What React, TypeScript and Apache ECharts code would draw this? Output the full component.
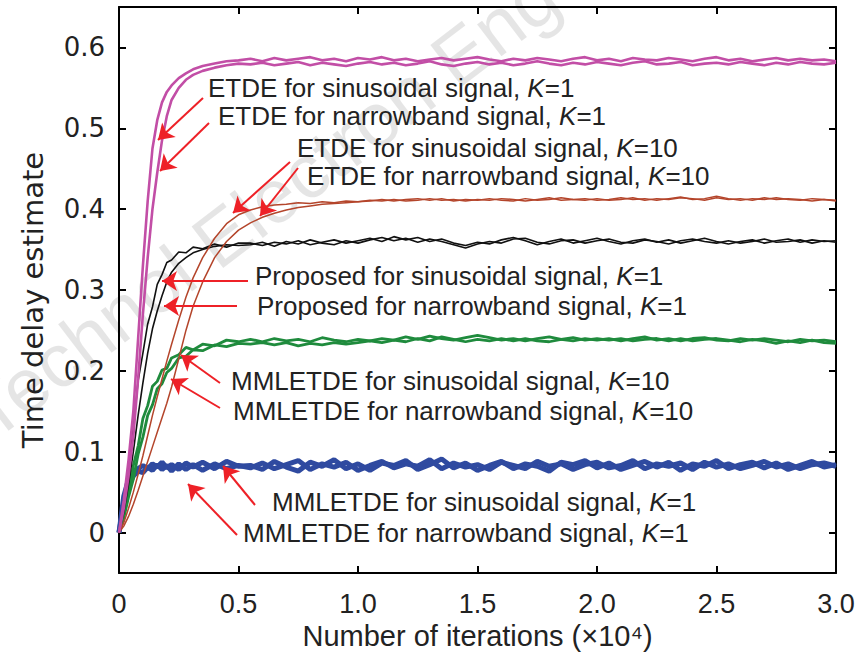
import React, { useEffect, useRef } from "react";
import * as echarts from "echarts";

// Iterations (x10^4): shared x grid for every curve
const X = [
  0, 0.02, 0.04, 0.06, 0.08, 0.1, 0.12, 0.14, 0.16, 0.18, 0.2, 0.22, 0.25, 0.28, 0.31, 0.35, 0.4, 0.45, 0.5,
  0.55, 0.6, 0.65, 0.7, 0.75, 0.8, 0.85, 0.9, 0.95, 1.0,
  1.05, 1.1, 1.15, 1.2, 1.25, 1.3, 1.35, 1.4, 1.45, 1.5,
  1.55, 1.6, 1.65, 1.7, 1.75, 1.8, 1.85, 1.9, 1.95, 2.0,
  2.05, 2.1, 2.15, 2.2, 2.25, 2.3, 2.35, 2.4, 2.45, 2.5,
  2.55, 2.6, 2.65, 2.7, 2.75, 2.8, 2.85, 2.9, 2.95, 3.0,
];

const ETDE_SIN_K1 = [
  0, 0.04, 0.09, 0.15, 0.24, 0.33, 0.41, 0.475, 0.51, 0.532, 0.545, 0.553, 0.562, 0.568, 0.573, 0.577, 0.58, 0.583, 0.584,
  0.586, 0.583, 0.587, 0.584, 0.586, 0.588, 0.584, 0.586, 0.583, 0.587,
  0.585, 0.588, 0.584, 0.586, 0.583, 0.585, 0.587, 0.584, 0.586, 0.588,
  0.585, 0.583, 0.586, 0.584, 0.587, 0.585, 0.583, 0.586, 0.588, 0.584,
  0.586, 0.583, 0.587, 0.585, 0.584, 0.587, 0.585, 0.583, 0.586, 0.588,
  0.584, 0.586, 0.583, 0.585, 0.587, 0.584, 0.586, 0.584, 0.585, 0.583,
];
const ETDE_NB_K1 = [
  0, 0.03, 0.07, 0.12, 0.19, 0.27, 0.34, 0.4, 0.445, 0.485, 0.515, 0.535, 0.55, 0.56, 0.566, 0.571, 0.575, 0.578, 0.58,
  0.579, 0.581, 0.578, 0.58, 0.582, 0.578, 0.581, 0.579, 0.577, 0.58,
  0.582, 0.579, 0.581, 0.578, 0.58, 0.583, 0.579, 0.577, 0.58, 0.582,
  0.579, 0.581, 0.578, 0.58, 0.583, 0.58, 0.578, 0.581, 0.579, 0.582,
  0.58, 0.578, 0.581, 0.583, 0.579, 0.58, 0.582, 0.578, 0.58, 0.581,
  0.579, 0.582, 0.58, 0.578, 0.581, 0.579, 0.582, 0.58, 0.579, 0.581,
];
const ETDE_SIN_K10 = [
  0, 0.012, 0.03, 0.05, 0.072, 0.095, 0.12, 0.145, 0.168, 0.19, 0.212, 0.233, 0.263, 0.291, 0.315, 0.34, 0.364, 0.382, 0.393,
  0.399, 0.403, 0.405, 0.406, 0.408, 0.407, 0.409, 0.408, 0.41, 0.409,
  0.411, 0.41, 0.412, 0.41, 0.411, 0.413, 0.411, 0.412, 0.41, 0.412,
  0.411, 0.413, 0.412, 0.41, 0.412, 0.414, 0.411, 0.412, 0.413, 0.411,
  0.412, 0.414, 0.412, 0.413, 0.411, 0.413, 0.415, 0.412, 0.413, 0.416,
  0.413, 0.411, 0.413, 0.412, 0.414, 0.412, 0.411, 0.413, 0.412, 0.411,
];
const ETDE_NB_K10 = [
  0, 0.008, 0.02, 0.035, 0.052, 0.07, 0.088, 0.106, 0.124, 0.142, 0.16, 0.18, 0.215, 0.25, 0.28, 0.31, 0.34, 0.36, 0.374,
  0.383, 0.39, 0.395, 0.399, 0.402, 0.404, 0.406, 0.407, 0.408, 0.409,
  0.41, 0.412, 0.41, 0.412, 0.413, 0.411, 0.413, 0.41, 0.412, 0.411,
  0.413, 0.411, 0.41, 0.413, 0.411, 0.412, 0.414, 0.412, 0.411, 0.413,
  0.411, 0.412, 0.414, 0.411, 0.413, 0.412, 0.414, 0.413, 0.411, 0.414,
  0.412, 0.413, 0.411, 0.414, 0.412, 0.413, 0.412, 0.41, 0.412, 0.41,
];
const PROP_SIN_K1 = [
  0, 0.035, 0.082, 0.128, 0.188, 0.222, 0.258, 0.279, 0.307, 0.319, 0.334, 0.337, 0.347, 0.346, 0.353, 0.351, 0.357, 0.353, 0.358,
  0.358, 0.355, 0.359, 0.357, 0.361, 0.356, 0.359, 0.362, 0.358, 0.361,
  0.364, 0.36, 0.366, 0.362, 0.365, 0.36, 0.363, 0.358, 0.355, 0.359,
  0.357, 0.362, 0.365, 0.361, 0.356, 0.36, 0.363, 0.358, 0.361, 0.364,
  0.36, 0.357, 0.361, 0.363, 0.359, 0.362, 0.358, 0.361, 0.364, 0.36,
  0.357, 0.36, 0.362, 0.358, 0.361, 0.363, 0.359, 0.362, 0.36, 0.361,
];
const PROP_NB_K1 = [
  0, 0.025, 0.06, 0.1, 0.145, 0.185, 0.222, 0.252, 0.274, 0.293, 0.31, 0.322, 0.333, 0.34, 0.346, 0.35, 0.354, 0.356, 0.355,
  0.356, 0.359, 0.354, 0.36, 0.357, 0.362, 0.358, 0.356, 0.361, 0.358,
  0.362, 0.365, 0.361, 0.364, 0.359, 0.363, 0.36, 0.356, 0.352, 0.357,
  0.36, 0.358, 0.363, 0.364, 0.359, 0.357, 0.361, 0.362, 0.358, 0.361,
  0.363, 0.359, 0.358, 0.362, 0.36, 0.357, 0.361, 0.363, 0.36, 0.358,
  0.361, 0.358, 0.36, 0.363, 0.359, 0.36, 0.362, 0.358, 0.361, 0.359,
];
const MML_SIN_K10 = [
  0, 0.027, 0.048, 0.083, 0.107, 0.141, 0.157, 0.181, 0.187, 0.201, 0.203, 0.216, 0.22, 0.229, 0.226, 0.233, 0.231, 0.238, 0.236,
  0.239, 0.236, 0.24, 0.237, 0.239, 0.236, 0.241, 0.238, 0.236, 0.239,
  0.237, 0.24, 0.238, 0.242, 0.239, 0.243, 0.24, 0.238, 0.241, 0.244,
  0.241, 0.238, 0.24, 0.237, 0.24, 0.242, 0.239, 0.237, 0.24, 0.238,
  0.24, 0.237, 0.24, 0.242, 0.238, 0.24, 0.237, 0.24, 0.241, 0.238,
  0.237, 0.24, 0.238, 0.24, 0.238, 0.236, 0.239, 0.237, 0.238, 0.236,
];
const MML_NB_K10 = [
  0, 0.018, 0.044, 0.066, 0.097, 0.118, 0.145, 0.158, 0.178, 0.184, 0.198, 0.203, 0.216, 0.218, 0.226, 0.225, 0.232, 0.23, 0.234,
  0.233, 0.235, 0.232, 0.235, 0.231, 0.234, 0.232, 0.235, 0.233, 0.235,
  0.237, 0.235, 0.238, 0.236, 0.24, 0.237, 0.242, 0.239, 0.236, 0.239,
  0.237, 0.24, 0.237, 0.24, 0.237, 0.236, 0.239, 0.241, 0.238, 0.24,
  0.238, 0.24, 0.237, 0.239, 0.24, 0.237, 0.24, 0.237, 0.239, 0.24,
  0.238, 0.236, 0.239, 0.237, 0.234, 0.237, 0.235, 0.238, 0.235, 0.234,
];
const MML_SIN_K1 = [
  0, 0.045, 0.066, 0.074, 0.079, 0.083, 0.079, 0.085, 0.081, 0.087, 0.08, 0.084, 0.078, 0.086, 0.081, 0.087, 0.079, 0.088, 0.082,
  0.083, 0.078, 0.088, 0.081, 0.076, 0.087, 0.082, 0.09, 0.079, 0.085,
  0.077, 0.086, 0.083, 0.089, 0.078, 0.084, 0.091, 0.08, 0.086, 0.077,
  0.083, 0.088, 0.079, 0.085, 0.082, 0.076, 0.087, 0.084, 0.089, 0.08,
  0.086, 0.078, 0.083, 0.088, 0.081, 0.087, 0.077, 0.085, 0.082, 0.089,
  0.079, 0.084, 0.087, 0.08, 0.086, 0.078, 0.083, 0.088, 0.081, 0.084,
];
const MML_NB_K1 = [
  0, 0.035, 0.058, 0.07, 0.076, 0.074, 0.081, 0.077, 0.084, 0.078, 0.083, 0.076, 0.085, 0.078, 0.084, 0.077, 0.085, 0.079, 0.083,
  0.08, 0.086, 0.079, 0.084, 0.089, 0.078, 0.085, 0.081, 0.087, 0.077,
  0.083, 0.088, 0.08, 0.085, 0.082, 0.09, 0.079, 0.086, 0.081, 0.084,
  0.078, 0.087, 0.083, 0.079, 0.088, 0.082, 0.085, 0.078, 0.084, 0.087,
  0.08, 0.083, 0.089, 0.079, 0.085, 0.082, 0.086, 0.078, 0.087, 0.081,
  0.085, 0.079, 0.083, 0.088, 0.081, 0.085, 0.079, 0.084, 0.086, 0.082,
];

const X_TICKS = [0, 0.5, 1.0, 1.5, 2.0, 2.5, 3.0];
const Y_TICKS = [0, 0.1, 0.2, 0.3, 0.4, 0.5, 0.6];

const ANNOTATIONS = [
  "ETDE for sinusoidal signal, {k|K}=1",
  "ETDE for narrowband signal, {k|K}=1",
  "ETDE for sinusoidal signal, {k|K}=10",
  "ETDE for narrowband signal, {k|K}=10",
  "Proposed for sinusoidal signal, {k|K}=1",
  "Proposed for narrowband signal, {k|K}=1",
  "MMLETDE for sinusoidal signal, {k|K}=10",
  "MMLETDE for narrowband signal, {k|K}=10",
  "MMLETDE for sinusoidal signal, {k|K}=1",
  "MMLETDE for narrowband signal, {k|K}=1",
];

// layout (pixels) for annotation texts and arrows
const ANNOT_POS = [
  [208, 88], [218, 116], [297, 148], [307, 176], [255, 276],
  [257, 306], [231, 381], [233, 411], [272, 502], [243, 533],
];
const ARROW_POS = [
  [203, 98, 158, 140], [209, 123, 160, 171], [290, 162, 233, 213], [298, 168, 260, 216],
  [248, 281, 162, 281], [237, 306, 164, 306], [220, 383, 181, 355], [220, 408, 171, 379],
  [255, 505, 223, 466], [237, 535, 188, 484],
];

const SERIES = [
  { name: "MMLETDE sinusoidal K=1", data: MML_SIN_K1, color: "#2f4aa0", width: 5 },
  { name: "MMLETDE narrowband K=1", data: MML_NB_K1, color: "#2f4aa0", width: 5 },
  { name: "MMLETDE sinusoidal K=10", data: MML_SIN_K10, color: "#1f8b3d", width: 2.8 },
  { name: "MMLETDE narrowband K=10", data: MML_NB_K10, color: "#1f8b3d", width: 2.8 },
  { name: "Proposed sinusoidal K=1", data: PROP_SIN_K1, color: "#111111", width: 1.6 },
  { name: "Proposed narrowband K=1", data: PROP_NB_K1, color: "#111111", width: 1.6 },
  { name: "ETDE sinusoidal K=10", data: ETDE_SIN_K10, color: "#b4452b", width: 1.5 },
  { name: "ETDE narrowband K=10", data: ETDE_NB_K10, color: "#b4452b", width: 1.5 },
  { name: "ETDE sinusoidal K=1", data: ETDE_SIN_K1, color: "#c24ea6", width: 2.6 },
  { name: "ETDE narrowband K=1", data: ETDE_NB_K1, color: "#c24ea6", width: 2.6 },
];

const SANS = "'Liberation Sans', Arial, sans-serif";
const WIDE = "'DejaVu Sans', 'Liberation Sans', sans-serif";

export default function App() {
  const ref = useRef<HTMLDivElement>(null);
  useEffect(() => {
    if (!ref.current) return;
    const chart = echarts.init(ref.current, null, { renderer: "svg" });
    const axisLine = { show: true, onZero: false, lineStyle: { color: "#000", width: 2 } };
    const axisTick = { show: true, inside: true, length: 7, lineStyle: { color: "#000", width: 2 } };
    const isTick = (list: number[], v: number) => list.some((t) => Math.abs(t - v) < 1e-6);
    const fmt = (list: number[]) => (v: number) => (isTick(list, v) ? (Math.abs(v) < 1e-9 ? "0" : v.toFixed(1)) : "");

    const series: any[] = SERIES.map((s, idx) => ({
      type: "line",
      name: s.name,
      data: X.map((x, i) => [x, s.data[i]]),
      showSymbol: false,
      symbol: "none",
      lineStyle: { color: s.color, width: s.width },
      itemStyle: { color: s.color },
      z: 3 + idx,
      silent: true,
    }));
    series[0].markLine = {
      silent: true,
      symbol: ["none", "arrow"],
      symbolSize: 15,
      label: { show: false },
      lineStyle: { color: "#ee2127", width: 2, type: "solid" },
      itemStyle: { color: "#ee2127" },
      z: 20,
      data: ARROW_POS.map(([x1, y1, x2, y2]) => [{ x: x1, y: y1 }, { x: x2, y: y2 }]),
    };

    const option: any = {
      animation: false,
      backgroundColor: "#ffffff",
      grid: { left: 119, right: 27, top: 7, bottom: 87, containLabel: false },
      xAxis: [
        {
          type: "value", min: 0, max: 3, interval: 0.5, position: "bottom",
          axisLine, axisTick, splitLine: { show: false },
          axisLabel: { margin: 17, fontSize: 27, fontFamily: SANS, color: "#222", formatter: fmt(X_TICKS) },
          name: "Number of iterations (×10⁴)", nameLocation: "middle", nameGap: 47,
          nameTextStyle: { fontSize: 29, fontFamily: SANS, color: "#222" },
        },
        {
          type: "value", min: 0, max: 3, interval: 0.5, position: "top",
          axisLine, axisTick, splitLine: { show: false }, axisLabel: { show: false },
        },
      ],
      yAxis: [
        {
          type: "value", min: -0.05, max: 0.65, splitNumber: 7, minInterval: 0.1, maxInterval: 0.1,
          position: "left", axisLine, axisTick, splitLine: { show: false },
          axisLabel: { margin: 14, fontSize: 26, fontFamily: WIDE, color: "#222", formatter: fmt(Y_TICKS) },
          name: "Time delay estimate", nameLocation: "middle", nameGap: 72, nameRotate: 90,
          nameTextStyle: { fontSize: 29, fontFamily: WIDE, color: "#222", padding: [0, 20, 0, 0] },
        },
        {
          type: "value", min: -0.05, max: 0.65, splitNumber: 7, minInterval: 0.1, maxInterval: 0.1,
          position: "right", axisLine, axisTick, splitLine: { show: false }, axisLabel: { show: false },
        },
      ],
      series,
      graphic: [
        {
          type: "text",
          x: 0, y: 452, rotation: 0.65, z: -10, silent: true,
          style: {
            text: "Technol Electron Eng", fontSize: 76, fontFamily: SANS,
            fill: "rgba(0,0,0,0.1)", align: "left", verticalAlign: "bottom",
          },
        },
        ...ANNOTATIONS.map((t, i) => ({
          type: "text",
          x: ANNOT_POS[i][0], y: ANNOT_POS[i][1], z: 100, silent: true,
          style: {
            text: t, fontSize: 26, lineHeight: 24, fontFamily: SANS, fill: "#222",
            align: "left", verticalAlign: "middle",
            rich: { k: { fontStyle: "italic", fontSize: 26, lineHeight: 24, fontFamily: SANS, fill: "#222" } },
          },
        })),
      ],
    };
    chart.setOption(option);
    return () => chart.dispose();
  }, []);
  return (
    <div
      ref={ref}
      style={{ position: "fixed", left: 0, top: 0, width: 863, height: 660, background: "#fff" }}
    />
  );
}
